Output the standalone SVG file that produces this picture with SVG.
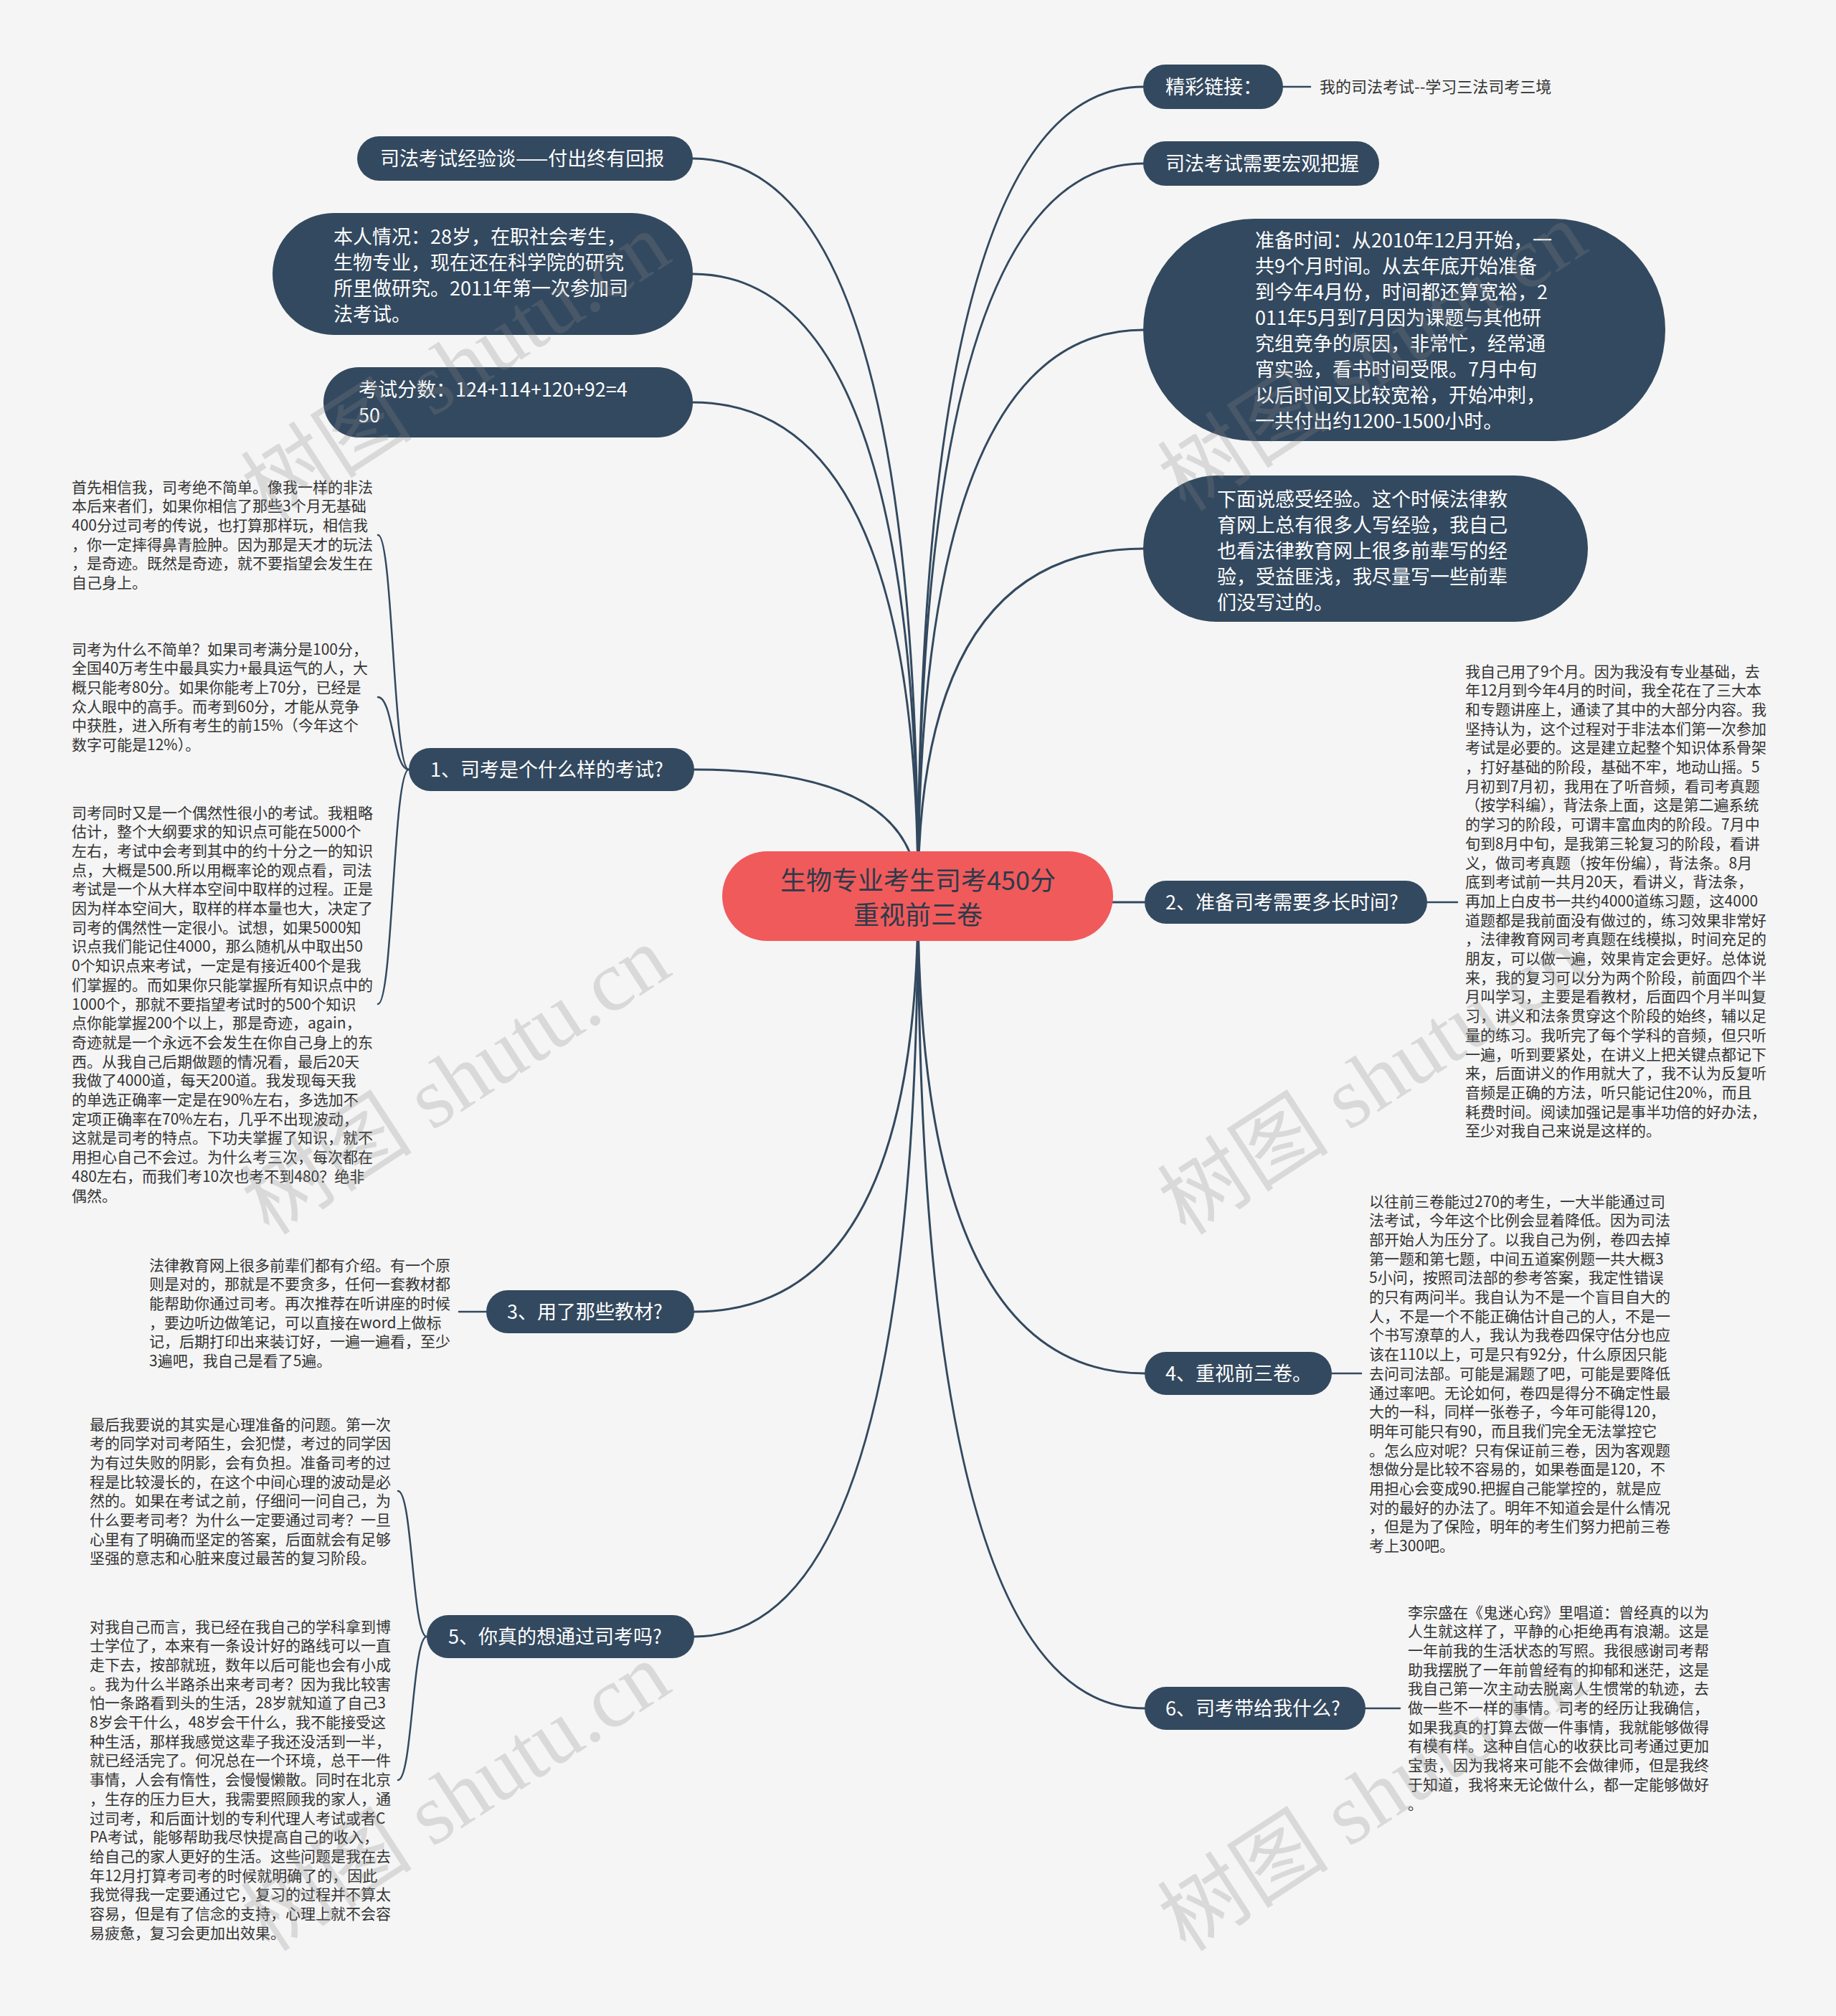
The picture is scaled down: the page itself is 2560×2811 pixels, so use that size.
<svg xmlns="http://www.w3.org/2000/svg" width="2560" height="2811" viewBox="0 0 2560 2811">
<style>
.bg{fill:#f5f5f5}
.node{fill:#33495f}
.root{fill:#f05a5b}
.nt{fill:#ffffff;font-family:"Noto Sans CJK SC","Liberation Sans",sans-serif;font-size:27px}
.rt{fill:#2b3a4a;font-family:"Noto Sans CJK SC","Liberation Sans",sans-serif;font-size:36px}
.lt{fill:#333333;font-family:"Noto Sans CJK SC","Liberation Sans",sans-serif;font-size:21px}
.lk{fill:#333333;font-family:"Noto Sans CJK SC","Liberation Sans",sans-serif;font-size:22px}
.ln{fill:none;stroke:#33495f;stroke-width:3;stroke-linecap:round}
.sl{fill:none;stroke:#33495f;stroke-width:2.5;stroke-linecap:round}
.wm{fill:#888888;opacity:0.25;font-family:"Liberation Serif","Noto Sans CJK SC",serif;font-size:120px}
</style>
<rect class="bg" x="0" y="0" width="2560" height="2811"/>

<g id="connectors">
  <path class="ln" d="M1280 1250 Q1280 121 1594 121"/>
  <path class="ln" d="M1280 1250 Q1280 228 1594 228"/>
  <path class="ln" d="M1280 1250 Q1280 460 1594 460"/>
  <path class="ln" d="M1280 1250 Q1280 765 1594 765"/>
  <path class="ln" d="M1280 1250 Q1280 1258 1596 1258"/>
  <path class="ln" d="M1280 1250 Q1280 1915 1596 1915"/>
  <path class="ln" d="M1280 1250 Q1280 2382 1596 2382"/>
  <path class="ln" d="M1280 1250 Q1280 221 966 221"/>
  <path class="ln" d="M1280 1250 Q1280 382 966 382"/>
  <path class="ln" d="M1280 1250 Q1280 561 966 561"/>
  <path class="ln" d="M1280 1250 Q1280 1073 968 1073"/>
  <path class="ln" d="M1280 1250 Q1280 1829 968 1829"/>
  <path class="ln" d="M1280 1250 Q1280 2282 968 2282"/>
  <path class="sl" d="M1789 121 L1827 121"/>
  <path class="sl" d="M1990 1258 L2032 1258"/>
  <path class="sl" d="M1857 1915 L1898 1915"/>
  <path class="sl" d="M1904 2382 L1952 2382"/>
  <path class="sl" d="M570 1073 C548 1073 548 746 527 746"/>
  <path class="sl" d="M570 1073 C548 1073 548 972 527 972"/>
  <path class="sl" d="M570 1073 C548 1073 548 1400 527 1400"/>
  <path class="sl" d="M678 1829 L640 1829"/>
  <path class="sl" d="M595 2282 C575 2282 575 2079 555 2079"/>
  <path class="sl" d="M595 2282 C575 2282 575 2482 555 2482"/>
</g>

<g id="root">
  <rect class="root" x="1007" y="1187" width="545" height="125" rx="62.5"/>
  <text class="rt" text-anchor="middle"><tspan x="1280" y="1241">生物专业考生司考450分</tspan><tspan x="1280" y="1289">重视前三卷</tspan></text>
</g>

<g id="n-link">
  <rect class="node" x="1594" y="90" width="195" height="62" rx="31"/>
  <text class="nt" x="1625" y="130.5">精彩链接：</text>
</g>
<g id="n-link-text">
  <text class="lk" x="1840" y="129">我的司法考试--学习三法司考三境</text>
</g>
<g id="n-macro">
  <rect class="node" x="1594" y="197" width="329" height="62" rx="31"/>
  <text class="nt" x="1625" y="237.5">司法考试需要宏观把握</text>
</g>
<g id="n-time">
  <rect class="node" x="1594" y="305" width="728" height="310" rx="155"/>
  <text class="nt"><tspan x="1750" y="344.5">准备时间：从2010年12月开始，一</tspan><tspan x="1750" dy="36">共9个月时间。从去年底开始准备</tspan><tspan x="1750" dy="36">到今年4月份，时间都还算宽裕，2</tspan><tspan x="1750" dy="36">011年5月到7月因为课题与其他研</tspan><tspan x="1750" dy="36">究组竞争的原因，非常忙，经常通</tspan><tspan x="1750" dy="36">宵实验，看书时间受限。7月中旬</tspan><tspan x="1750" dy="36">以后时间又比较宽裕，开始冲刺，</tspan><tspan x="1750" dy="36">一共付出约1200-1500小时。</tspan></text>
</g>
<g id="n-feel">
  <rect class="node" x="1594" y="663" width="620" height="204" rx="102"/>
  <text class="nt"><tspan x="1697" y="705.5">下面说感受经验。这个时候法律教</tspan><tspan x="1697" dy="36">育网上总有很多人写经验，我自己</tspan><tspan x="1697" dy="36">也看法律教育网上很多前辈写的经</tspan><tspan x="1697" dy="36">验，受益匪浅，我尽量写一些前辈</tspan><tspan x="1697" dy="36">们没写过的。</tspan></text>
</g>
<g id="n-q2">
  <rect class="node" x="1596" y="1228" width="394" height="60" rx="30"/>
  <text class="nt" x="1625" y="1267.5">2、准备司考需要多长时间?</text>
</g>
<g id="n-q2-text">
  <text class="lt"><tspan x="2043" y="943.5">我自己用了9个月。因为我没有专业基础，去</tspan><tspan x="2043" dy="26.7">年12月到今年4月的时间，我全花在了三大本</tspan><tspan x="2043" dy="26.7">和专题讲座上，通读了其中的大部分内容。我</tspan><tspan x="2043" dy="26.7">坚持认为，这个过程对于非法本们第一次参加</tspan><tspan x="2043" dy="26.7">考试是必要的。这是建立起整个知识体系骨架</tspan><tspan x="2043" dy="26.7">，打好基础的阶段，基础不牢，地动山摇。5</tspan><tspan x="2043" dy="26.7">月初到7月初，我用在了听音频，看司考真题</tspan><tspan x="2043" dy="26.7">（按学科编），背法条上面，这是第二遍系统</tspan><tspan x="2043" dy="26.7">的学习的阶段，可谓丰富血肉的阶段。7月中</tspan><tspan x="2043" dy="26.7">旬到8月中旬，是我第三轮复习的阶段，看讲</tspan><tspan x="2043" dy="26.7">义，做司考真题（按年份编），背法条。8月</tspan><tspan x="2043" dy="26.7">底到考试前一共月20天，看讲义，背法条，</tspan><tspan x="2043" dy="26.7">再加上白皮书一共约4000道练习题，这4000</tspan><tspan x="2043" dy="26.7">道题都是我前面没有做过的，练习效果非常好</tspan><tspan x="2043" dy="26.7">，法律教育网司考真题在线模拟，时间充足的</tspan><tspan x="2043" dy="26.7">朋友，可以做一遍，效果肯定会更好。总体说</tspan><tspan x="2043" dy="26.7">来，我的复习可以分为两个阶段，前面四个半</tspan><tspan x="2043" dy="26.7">月叫学习，主要是看教材，后面四个月半叫复</tspan><tspan x="2043" dy="26.7">习，讲义和法条贯穿这个阶段的始终，辅以足</tspan><tspan x="2043" dy="26.7">量的练习。我听完了每个学科的音频，但只听</tspan><tspan x="2043" dy="26.7">一遍，听到要紧处，在讲义上把关键点都记下</tspan><tspan x="2043" dy="26.7">来，后面讲义的作用就大了，我不认为反复听</tspan><tspan x="2043" dy="26.7">音频是正确的方法，听只能记住20%，而且</tspan><tspan x="2043" dy="26.7">耗费时间。阅读加强记是事半功倍的好办法，</tspan><tspan x="2043" dy="26.7">至少对我自己来说是这样的。</tspan></text>
</g>
<g id="n-q4">
  <rect class="node" x="1596" y="1885" width="261" height="60" rx="30"/>
  <text class="nt" x="1625" y="1924.5">4、重视前三卷。</text>
</g>
<g id="n-q4-text">
  <text class="lt"><tspan x="1909" y="1682.5">以往前三卷能过270的考生，一大半能通过司</tspan><tspan x="1909" dy="26.7">法考试，今年这个比例会显着降低。因为司法</tspan><tspan x="1909" dy="26.7">部开始人为压分了。以我自己为例，卷四去掉</tspan><tspan x="1909" dy="26.7">第一题和第七题，中间五道案例题一共大概3</tspan><tspan x="1909" dy="26.7">5小问，按照司法部的参考答案，我定性错误</tspan><tspan x="1909" dy="26.7">的只有两问半。我自认为不是一个盲目自大的</tspan><tspan x="1909" dy="26.7">人，不是一个不能正确估计自己的人，不是一</tspan><tspan x="1909" dy="26.7">个书写潦草的人，我认为我卷四保守估分也应</tspan><tspan x="1909" dy="26.7">该在110以上，可是只有92分，什么原因只能</tspan><tspan x="1909" dy="26.7">去问司法部。可能是漏题了吧，可能是要降低</tspan><tspan x="1909" dy="26.7">通过率吧。无论如何，卷四是得分不确定性最</tspan><tspan x="1909" dy="26.7">大的一科，同样一张卷子，今年可能得120，</tspan><tspan x="1909" dy="26.7">明年可能只有90，而且我们完全无法掌控它</tspan><tspan x="1909" dy="26.7">。怎么应对呢？只有保证前三卷，因为客观题</tspan><tspan x="1909" dy="26.7">想做分是比较不容易的，如果卷面是120，不</tspan><tspan x="1909" dy="26.7">用担心会变成90.把握自己能掌控的，就是应</tspan><tspan x="1909" dy="26.7">对的最好的办法了。明年不知道会是什么情况</tspan><tspan x="1909" dy="26.7">，但是为了保险，明年的考生们努力把前三卷</tspan><tspan x="1909" dy="26.7">考上300吧。</tspan></text>
</g>
<g id="n-q6">
  <rect class="node" x="1596" y="2352" width="308" height="60" rx="30"/>
  <text class="nt" x="1625" y="2391.5">6、司考带给我什么?</text>
</g>
<g id="n-q6-text">
  <text class="lt"><tspan x="1963" y="2255.5">李宗盛在《鬼迷心窍》里唱道：曾经真的以为</tspan><tspan x="1963" dy="26.7">人生就这样了，平静的心拒绝再有浪潮。这是</tspan><tspan x="1963" dy="26.7">一年前我的生活状态的写照。我很感谢司考帮</tspan><tspan x="1963" dy="26.7">助我摆脱了一年前曾经有的抑郁和迷茫，这是</tspan><tspan x="1963" dy="26.7">我自己第一次主动去脱离人生惯常的轨迹，去</tspan><tspan x="1963" dy="26.7">做一些不一样的事情。司考的经历让我确信，</tspan><tspan x="1963" dy="26.7">如果我真的打算去做一件事情，我就能够做得</tspan><tspan x="1963" dy="26.7">有模有样。这种自信心的收获比司考通过更加</tspan><tspan x="1963" dy="26.7">宝贵，因为我将来可能不会做律师，但是我终</tspan><tspan x="1963" dy="26.7">于知道，我将来无论做什么，都一定能够做好</tspan><tspan x="1963" dy="26.7">。</tspan></text>
</g>

<g id="n-title">
  <rect class="node" x="498" y="190" width="468" height="62" rx="31"/>
  <text class="nt" x="530" y="230.5">司法考试经验谈——付出终有回报</text>
</g>
<g id="n-self">
  <rect class="node" x="380" y="297" width="586" height="170" rx="85"/>
  <text class="nt"><tspan x="465" y="339.5">本人情况：28岁，在职社会考生，</tspan><tspan x="465" dy="36">生物专业，现在还在科学院的研究</tspan><tspan x="465" dy="36">所里做研究。2011年第一次参加司</tspan><tspan x="465" dy="36">法考试。</tspan></text>
</g>
<g id="n-score">
  <rect class="node" x="451" y="512" width="515" height="98" rx="49"/>
  <text class="nt"><tspan x="500" y="552.5">考试分数：124+114+120+92=4</tspan><tspan x="500" dy="36">50</tspan></text>
</g>
<g id="n-q1">
  <rect class="node" x="570" y="1043" width="398" height="60" rx="30"/>
  <text class="nt" x="600" y="1082.5">1、司考是个什么样的考试?</text>
</g>
<g id="n-q1-t1">
  <text class="lt"><tspan x="100" y="686.5">首先相信我，司考绝不简单。像我一样的非法</tspan><tspan x="100" dy="26.7">本后来者们，如果你相信了那些3个月无基础</tspan><tspan x="100" dy="26.7">400分过司考的传说，也打算那样玩，相信我</tspan><tspan x="100" dy="26.7">，你一定摔得鼻青脸肿。因为那是天才的玩法</tspan><tspan x="100" dy="26.7">，是奇迹。既然是奇迹，就不要指望会发生在</tspan><tspan x="100" dy="26.7">自己身上。</tspan></text>
</g>
<g id="n-q1-t2">
  <text class="lt"><tspan x="100" y="912.5">司考为什么不简单？如果司考满分是100分，</tspan><tspan x="100" dy="26.7">全国40万考生中最具实力+最具运气的人，大</tspan><tspan x="100" dy="26.7">概只能考80分。如果你能考上70分，已经是</tspan><tspan x="100" dy="26.7">众人眼中的高手。而考到60分，才能从竞争</tspan><tspan x="100" dy="26.7">中获胜，进入所有考生的前15%（今年这个</tspan><tspan x="100" dy="26.7">数字可能是12%）。</tspan></text>
</g>
<g id="n-q1-t3">
  <text class="lt"><tspan x="100" y="1140.5">司考同时又是一个偶然性很小的考试。我粗略</tspan><tspan x="100" dy="26.7">估计，整个大纲要求的知识点可能在5000个</tspan><tspan x="100" dy="26.7">左右，考试中会考到其中的约十分之一的知识</tspan><tspan x="100" dy="26.7">点，大概是500.所以用概率论的观点看，司法</tspan><tspan x="100" dy="26.7">考试是一个从大样本空间中取样的过程。正是</tspan><tspan x="100" dy="26.7">因为样本空间大，取样的样本量也大，决定了</tspan><tspan x="100" dy="26.7">司考的偶然性一定很小。试想，如果5000知</tspan><tspan x="100" dy="26.7">识点我们能记住4000，那么随机从中取出50</tspan><tspan x="100" dy="26.7">0个知识点来考试，一定是有接近400个是我</tspan><tspan x="100" dy="26.7">们掌握的。而如果你只能掌握所有知识点中的</tspan><tspan x="100" dy="26.7">1000个，那就不要指望考试时的500个知识</tspan><tspan x="100" dy="26.7">点你能掌握200个以上，那是奇迹，again，</tspan><tspan x="100" dy="26.7">奇迹就是一个永远不会发生在你自己身上的东</tspan><tspan x="100" dy="26.7">西。从我自己后期做题的情况看，最后20天</tspan><tspan x="100" dy="26.7">我做了4000道，每天200道。我发现每天我</tspan><tspan x="100" dy="26.7">的单选正确率一定是在90%左右，多选加不</tspan><tspan x="100" dy="26.7">定项正确率在70%左右，几乎不出现波动，</tspan><tspan x="100" dy="26.7">这就是司考的特点。下功夫掌握了知识，就不</tspan><tspan x="100" dy="26.7">用担心自己不会过。为什么考三次，每次都在</tspan><tspan x="100" dy="26.7">480左右，而我们考10次也考不到480？绝非</tspan><tspan x="100" dy="26.7">偶然。</tspan></text>
</g>
<g id="n-q3">
  <rect class="node" x="678" y="1799" width="290" height="60" rx="30"/>
  <text class="nt" x="707" y="1838.5">3、用了那些教材?</text>
</g>
<g id="n-q3-text">
  <text class="lt"><tspan x="208" y="1771.5">法律教育网上很多前辈们都有介绍。有一个原</tspan><tspan x="208" dy="26.7">则是对的，那就是不要贪多，任何一套教材都</tspan><tspan x="208" dy="26.7">能帮助你通过司考。再次推荐在听讲座的时候</tspan><tspan x="208" dy="26.7">，要边听边做笔记，可以直接在word上做标</tspan><tspan x="208" dy="26.7">记，后期打印出来装订好，一遍一遍看，至少</tspan><tspan x="208" dy="26.7">3遍吧，我自己是看了5遍。</tspan></text>
</g>
<g id="n-q5">
  <rect class="node" x="595" y="2252" width="373" height="60" rx="30"/>
  <text class="nt" x="625" y="2291.5">5、你真的想通过司考吗?</text>
</g>
<g id="n-q5-t1">
  <text class="lt"><tspan x="125" y="1993.5">最后我要说的其实是心理准备的问题。第一次</tspan><tspan x="125" dy="26.7">考的同学对司考陌生，会犯憷，考过的同学因</tspan><tspan x="125" dy="26.7">为有过失败的阴影，会有负担。准备司考的过</tspan><tspan x="125" dy="26.7">程是比较漫长的，在这个中间心理的波动是必</tspan><tspan x="125" dy="26.7">然的。如果在考试之前，仔细问一问自己，为</tspan><tspan x="125" dy="26.7">什么要考司考？为什么一定要通过司考？一旦</tspan><tspan x="125" dy="26.7">心里有了明确而坚定的答案，后面就会有足够</tspan><tspan x="125" dy="26.7">坚强的意志和心脏来度过最苦的复习阶段。</tspan></text>
</g>
<g id="n-q5-t2">
  <text class="lt"><tspan x="125" y="2275.5">对我自己而言，我已经在我自己的学科拿到博</tspan><tspan x="125" dy="26.7">士学位了，本来有一条设计好的路线可以一直</tspan><tspan x="125" dy="26.7">走下去，按部就班，数年以后可能也会有小成</tspan><tspan x="125" dy="26.7">。我为什么半路杀出来考司考？因为我比较害</tspan><tspan x="125" dy="26.7">怕一条路看到头的生活，28岁就知道了自己3</tspan><tspan x="125" dy="26.7">8岁会干什么，48岁会干什么，我不能接受这</tspan><tspan x="125" dy="26.7">种生活，那样我感觉这辈子我还没活到一半，</tspan><tspan x="125" dy="26.7">就已经活完了。何况总在一个环境，总干一件</tspan><tspan x="125" dy="26.7">事情，人会有惰性，会慢慢懒散。同时在北京</tspan><tspan x="125" dy="26.7">，生存的压力巨大，我需要照顾我的家人，通</tspan><tspan x="125" dy="26.7">过司考，和后面计划的专利代理人考试或者C</tspan><tspan x="125" dy="26.7">PA考试，能够帮助我尽快提高自己的收入，</tspan><tspan x="125" dy="26.7">给自己的家人更好的生活。这些问题是我在去</tspan><tspan x="125" dy="26.7">年12月打算考司考的时候就明确了的，因此</tspan><tspan x="125" dy="26.7">我觉得我一定要通过它，复习的过程并不算太</tspan><tspan x="125" dy="26.7">容易，但是有了信念的支持，心理上就不会容</tspan><tspan x="125" dy="26.7">易疲惫，复习会更加出效果。</tspan></text>
</g>

<g id="watermarks">
  <text class="wm" text-anchor="middle" transform="translate(658 546) rotate(-33)">树图 shutu.cn</text>
  <text class="wm" text-anchor="middle" transform="translate(658 1541) rotate(-33)">树图 shutu.cn</text>
  <text class="wm" text-anchor="middle" transform="translate(658 2540) rotate(-33)">树图 shutu.cn</text>
  <text class="wm" text-anchor="middle" transform="translate(1936 532) rotate(-33)">树图 shutu.cn</text>
  <text class="wm" text-anchor="middle" transform="translate(1936 1541) rotate(-33)">树图 shutu.cn</text>
  <text class="wm" text-anchor="middle" transform="translate(1936 2540) rotate(-33)">树图 shutu.cn</text>
</g>
</svg>
